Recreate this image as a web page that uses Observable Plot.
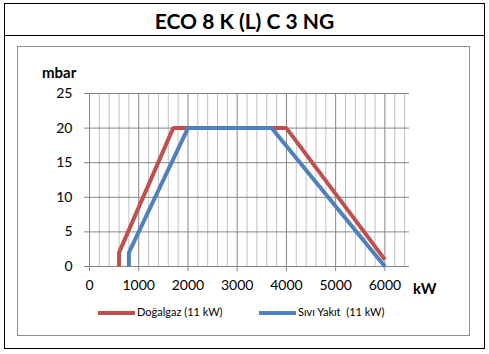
<!DOCTYPE html>
<html>
<head>
<meta charset="utf-8">
<script src="https://cdn.jsdelivr.net/npm/d3@7"></script>
<script src="https://cdn.jsdelivr.net/npm/@observablehq/plot@0.6"></script>
<style>
  html, body { margin: 0; padding: 0; background: #fff; }
  #wrap { position: relative; width: 489px; height: 354px; overflow: hidden; font-family: Lato, "Open Sans", sans-serif; }
  #wrap svg { position: absolute; left: 0; top: 0; }
  .box { position: absolute; box-sizing: border-box; }
  .lbl { position: absolute; white-space: pre; color: #000; }
</style>
</head>
<body>
<div id="wrap">
  <div class="box" style="left:4px;top:3px;width:481px;height:346px;border:1.5px solid #000;"></div>
  <div class="box" style="left:4px;top:35px;width:481px;height:0;border-top:1.5px solid #000;"></div>
  <div class="box" style="left:17px;top:46px;width:453px;height:290px;border:1.5px solid #8c8c8c;"></div>
  <div class="lbl" id="title" style="left:0;width:489px;top:8px;text-align:center;font-weight:bold;font-size:21px;">ECO 8 K (L) C 3 NG</div>
</div>
<script>
// Data
const title = "ECO 8 K (L) C 3 NG";
const gasKW   = [600, 600, 1700, 4000, 6000];
const gasMbar = [0, 2, 20, 20, 1];
const oilKW   = [800, 800, 2000, 3700, 6000];
const oilMbar = [0, 2, 20, 20, 0];
const seriesNames = ["Doğalgaz (11 kW)", "Sıvı Yakıt  (11 kW)"];
const seriesColors = ["#C0504D", "#4F81BD"];
const xTicks = [0, 1000, 2000, 3000, 4000, 5000, 6000];
const yTicks = [0, 5, 10, 15, 20, 25];
const xMax = 6500;
const xMinorStep = 200;
const yLabel = "mbar";
const xLabel = "kW";

const gas = gasKW.map((x, i) => ({x, y: gasMbar[i]}));
const oil = oilKW.map((x, i) => ({x, y: oilMbar[i]}));
const minor = d3.range(0, xMax + 1, xMinorStep).filter(v => v % 1000 !== 0);
const major = xTicks.filter(v => v > 0);

const chart = Plot.plot({
  width: 489,
  height: 354,
  marginLeft: 89,
  marginRight: 80,
  marginTop: 93,
  marginBottom: 88,
  style: {fontFamily: "Lato, 'Open Sans', sans-serif", background: "transparent"},
  x: {domain: [0, xMax]},
  y: {domain: [0, 25]},
  marks: [
    Plot.ruleX(minor, {stroke: "#c0c0c0", strokeWidth: 1, strokeOpacity: 1}),
    Plot.ruleX(major, {stroke: "#868686", strokeWidth: 1, strokeOpacity: 1}),
    Plot.ruleY(yTicks.filter(v => v > 0), {stroke: "#868686", strokeWidth: 1, strokeOpacity: 1}),
    Plot.ruleX([0], {stroke: "#868686", strokeWidth: 1}),
    Plot.ruleY([0], {stroke: "#868686", strokeWidth: 1}),
    Plot.axisX({ticks: xTicks, tickFormat: d => String(d), tickSize: 5, tickPadding: 9, stroke: "#868686", fontSize: 14, label: null, color: "#000"}),
    Plot.axisY({ticks: yTicks, tickFormat: d => String(d), tickSize: 5, tickPadding: 12, stroke: "#868686", fontSize: 14, label: null, color: "#000"}),
    Plot.line(gas, {x: "x", y: "y", stroke: seriesColors[0], strokeWidth: 4, strokeLinejoin: "miter", strokeLinecap: "butt"}),
    Plot.line(oil, {x: "x", y: "y", stroke: seriesColors[1], strokeWidth: 4, strokeLinejoin: "miter", strokeLinecap: "butt"})
  ]
});
document.getElementById("wrap").appendChild(chart);

const wrap = document.getElementById("wrap");
function addLabel(text, style) {
  const d = document.createElement("div");
  d.className = "lbl";
  d.textContent = text;
  Object.assign(d.style, style);
  wrap.appendChild(d);
  return d;
}
document.getElementById("title").textContent = title;
addLabel(yLabel, {left: "42px", top: "63px", fontWeight: "bold", fontSize: "15px"});
addLabel(xLabel, {left: "413px", top: "279px", fontWeight: "bold", fontSize: "15px"});
// Legend
const legendX = [98, 259];
seriesNames.forEach((name, i) => {
  const sw = document.createElement("div");
  sw.className = "box";
  Object.assign(sw.style, {left: legendX[i] + "px", top: "311px", width: "37px", height: "4px", background: seriesColors[i]});
  wrap.appendChild(sw);
  addLabel(name, {left: (legendX[i] + 39) + "px", top: "305px", fontSize: "11px"});
});
</script>
</body>
</html>
